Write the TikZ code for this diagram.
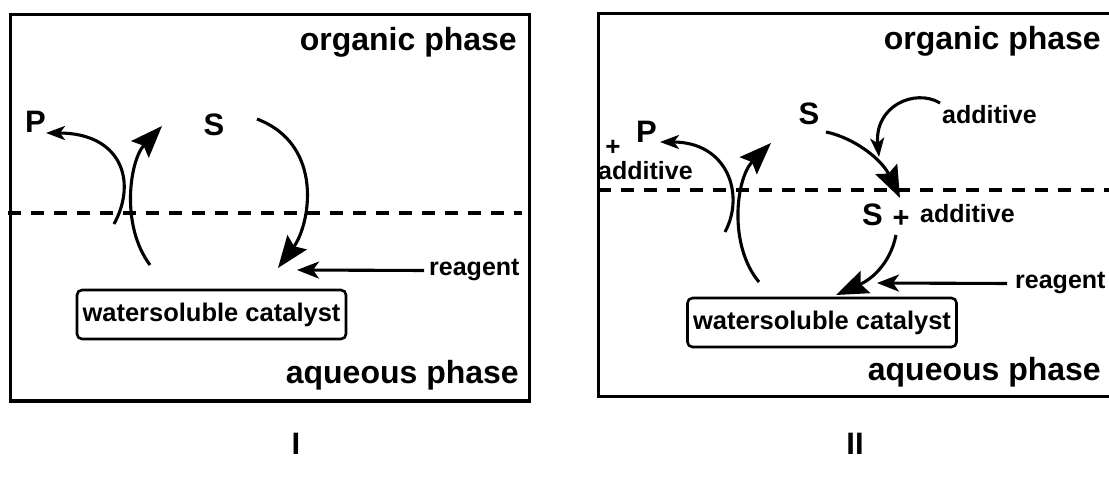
\documentclass[tikz,border=0pt]{standalone}
\usepackage{fontspec}
\setmainfont{Liberation Sans}
\usetikzlibrary{arrows.meta}
\begin{document}
\begin{tikzpicture}[x=1pt,y=-1pt,
  panelframe/.style={line width=3pt},
  interfaceline/.style={line width=3.2pt, dash pattern=on 13pt off 10pt},
  flowline/.style={line width=3.1pt},
  bighead/.style={-{Stealth[length=32pt,width=24pt,inset=5pt]}},
  midhead/.style={-{Stealth[length=22pt,width=17pt,inset=6pt]}},
  smallhead/.style={-{Stealth[length=19pt,width=14pt,inset=5pt]}},
  phasetext/.style={font=\fontsize{32}{37}\selectfont\bfseries, inner sep=0pt},
  smalltext/.style={font=\fontsize{25}{30}\selectfont\bfseries, inner sep=0pt},
  speciestext/.style={font=\fontsize{31}{36}\selectfont\bfseries, inner sep=0pt},
  catbox/.style={draw, line width=2.6pt, rounded corners=5pt, minimum width=269pt,
    minimum height=49pt, inner sep=0pt, font=\fontsize{25.5}{30}\selectfont\bfseries},
  paneltag/.style={font=\fontsize{31}{36}\selectfont\bfseries, inner sep=0pt}
]
\useasboundingbox (0,0) rectangle (1109,478);

% ---------------- panel I ----------------
\draw[panelframe] (10,15) rectangle (529,401);
\draw[interfaceline] (8,213) -- (522,213);

\node[phasetext, anchor=base east] (orgI) at (517,51) {organic phase};
\node[phasetext, anchor=base east] (aqI) at (519,384) {aqueous phase};

\node[speciestext, anchor=base west] (PI) at (25,133) {P};
\node[speciestext, anchor=base] (SI) at (214,136) {S};
\node[catbox] (catI) at (211.5,314.5) {watersoluble catalyst};
\node[smalltext, anchor=base west] (reagI) at (429,276) {reagent};

\coordinate (pIstart) at (114,224);
\coordinate (pItip) at (46,133);
\coordinate (upIstart) at (150,265);
\coordinate (upItip) at (162,126);
\coordinate (sIstart) at (257,119);
\coordinate (sItip) at (278,268);
\coordinate (rIend) at (297,270);

\draw[flowline, smallhead] (pIstart) .. controls (138,180) and (120,133) .. (pItip);
\draw[flowline, bighead] (upIstart) .. controls (120,225) and (130,160) .. (upItip);
\draw[flowline, bighead] (sIstart) .. controls (325,145) and (310,225) .. (sItip);
\draw[flowline, midhead] ([xshift=-5pt]reagI.west) -- (rIend);

\node[paneltag] (tagI) at (296,444) {I};

% ---------------- panel II ----------------
\draw[panelframe] (1109,14) -- (598,14) -- (598,397) -- (1109,397);
\draw[interfaceline] (598,190) -- (1109,190);

\node[phasetext, anchor=base east] (orgII) at (1101,50) {organic phase};
\node[phasetext, anchor=base east] (aqII) at (1101,381) {aqueous phase};

\node[speciestext, anchor=base] (SII) at (809,125) {S};
\node[smalltext, anchor=base west] (addTop) at (942,124) {additive};
\node[speciestext, anchor=base west] (PII) at (636,143) {P};
\node[font=\fontsize{26}{30}\selectfont\bfseries, inner sep=0pt] (plusP) at (613,148) {+};
\node[smalltext, anchor=base west] (addP) at (598,180) {additive};

\node[speciestext, anchor=base] (SaqII) at (872.5,226) {S};
\node[font=\fontsize{29}{34}\selectfont\bfseries, inner sep=0pt] (plusS) at (901,219) {+};
\node[smalltext, anchor=base west] (addS) at (920,223) {additive};

\node[catbox] (catII) at (822,322.5) {watersoluble catalyst};
\node[smalltext, anchor=base west] (reagII) at (1015,289) {reagent};

\coordinate (addstart) at (940,103);
\coordinate (addtip) at (879,157);
\coordinate (sIIstart) at (826,132);
\coordinate (sIItip) at (900,198);
\coordinate (pIIstart) at (725,232);
\coordinate (pIItip) at (660,142);
\coordinate (upIIstart) at (759,282);
\coordinate (upIItip) at (771,143);
\coordinate (saqstart) at (896,235);
\coordinate (saqtip) at (836,295);
\coordinate (rIIend) at (877,283);

\draw[flowline, smallhead] (addstart) .. controls (915,88) and (874,106) .. (addtip);
\draw[flowline, bighead] (sIIstart) .. controls (855,138) and (882,160) .. (sIItip);
\draw[flowline, smallhead] (pIIstart) .. controls (745,195) and (728,142) .. (pIItip);
\draw[flowline, bighead] (upIIstart) .. controls (728,245) and (736,178) .. (upIItip);
\draw[flowline, bighead] (saqstart) .. controls (890,265) and (870,280) .. (saqtip);
\draw[flowline, midhead] ([xshift=-8pt]reagII.west) -- (rIIend);

\node[paneltag] (tagII) at (855,444) {II};
\end{tikzpicture}
\end{document}
